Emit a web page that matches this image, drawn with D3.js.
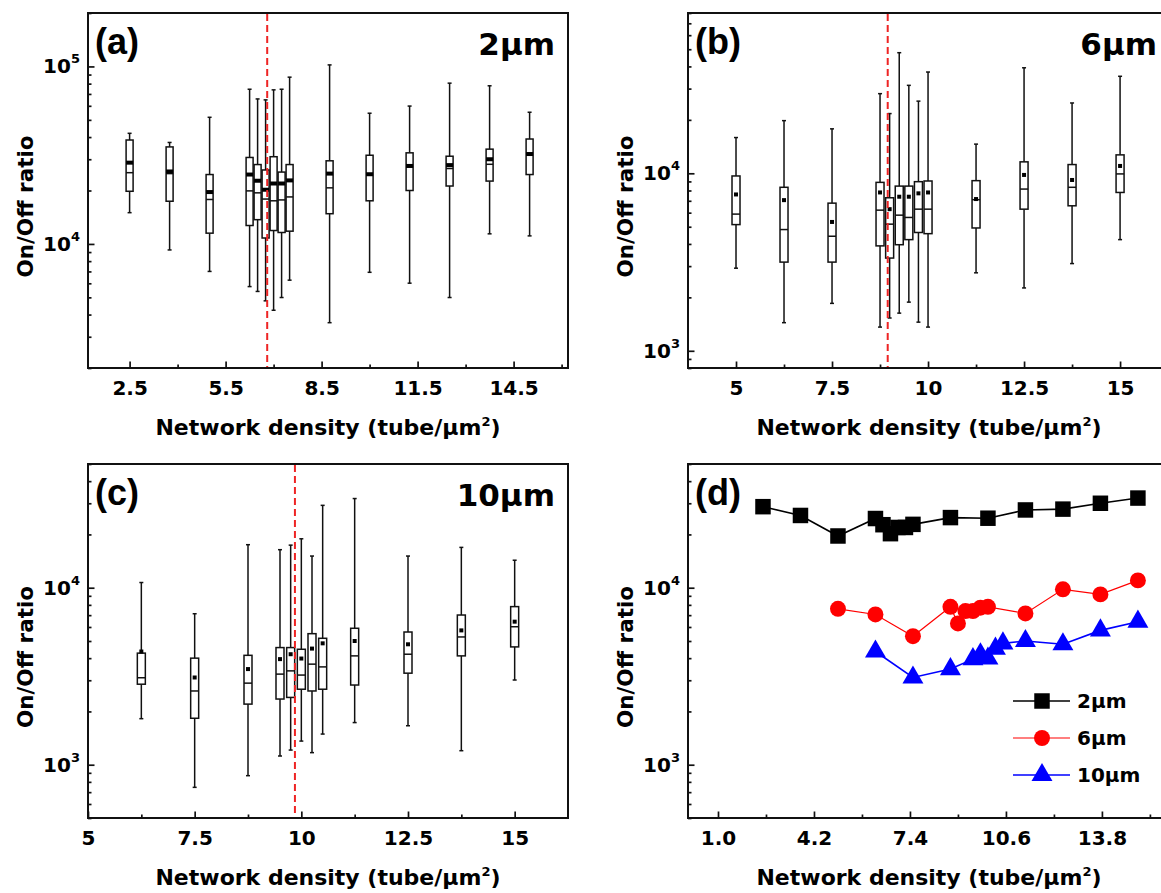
<!DOCTYPE html>
<html>
<head>
<meta charset="utf-8">
<script src="https://cdn.jsdelivr.net/npm/d3@7"></script>
<style>
  body { margin: 0; background: #fff; }
  svg { display: block; }
</style>
</head>
<body>
<div id="chart"></div>
<script>
const width = 1161;
const height = 893;
const FONT = "'DejaVu Sans', sans-serif";
const INK = "#111";

// (a) 2 µm channel
const densA = [2.5, 3.75, 5, 6.25, 6.5, 6.75, 7, 7.25, 7.5, 8.75, 10, 11.25, 12.5, 13.75, 15];
const lowA = [15000, 9250, 7000, 5750, 5400, 4780, 4230, 4990, 6250, 3600, 6920, 6010, 4990, 11400, 11100];
const q1A = [19800, 17400, 11500, 12700, 13700, 10800, 11900, 11600, 11800, 14800, 17500, 20000, 21200, 22600, 24600];
const medA = [25200, 24900, 17800, 19900, 19400, 17900, 17500, 17700, 18400, 20700, 24500, 27200, 26600, 28100, 32100];
const meanA = [28700, 25600, 19600, 24600, 22700, 20200, 21900, 21900, 22800, 24900, 24700, 27500, 27800, 30000, 32100];
const q3A = [38500, 35200, 24600, 30700, 28000, 26100, 31000, 25400, 28000, 29400, 31600, 32600, 31200, 34200, 39000];
const highA = [42000, 37300, 51700, 74400, 65600, 64800, 73800, 74400, 87000, 102000, 54500, 59800, 80500, 77800, 55200];

// (b) 6 µm channel
const densB = [5, 6.25, 7.5, 8.75, 9, 9.25, 9.5, 9.75, 10, 11.25, 12.5, 13.75, 15];
const lowB = [2920, 1440, 1850, 1360, 1530, 1630, 1880, 1450, 1360, 2750, 2260, 3100, 4230];
const q1B = [5140, 3160, 3160, 3900, 3330, 3960, 4230, 4640, 4570, 4920, 6280, 6560, 7800];
const medB = [5890, 4820, 4420, 6200, 5170, 5810, 5640, 6280, 6280, 7100, 8150, 8340, 9920];
const meanB = [7600, 7060, 5320, 7800, 6280, 7380, 7380, 7710, 7800, 7160, 9790, 9170, 11000];
const q3B = [9660, 8340, 6790, 8890, 7280, 8470, 8470, 8970, 9050, 9090, 11600, 11200, 12700];
const highB = [15900, 19800, 17800, 28100, 21700, 47800, 31300, 25500, 37200, 14600, 39300, 24900, 35200];

// (c) 10 µm channel
const densC = [6.25, 7.5, 8.75, 9.5, 9.75, 10, 10.25, 10.5, 11.25, 12.5, 13.75, 15];
const lowC = [1820, 745, 867, 1120, 1210, 1360, 1170, 1490, 1730, 1660, 1200, 3010];
const q1C = [2850, 1830, 2200, 2350, 2400, 2670, 2610, 2670, 2820, 3290, 4120, 4630];
const medC = [3100, 2610, 2890, 3250, 3390, 3210, 3700, 3570, 4120, 4210, 5270, 6020];
const meanC = [4360, 3110, 3470, 3950, 4210, 3980, 4530, 4850, 5000, 4790, 5740, 6430];
const q3C = [4270, 4000, 4150, 4590, 4590, 4490, 5500, 5180, 5900, 5620, 7010, 7820];
const highC = [10700, 7130, 17500, 16400, 17400, 18900, 15100, 29200, 31900, 15100, 16900, 14300];

// percolation thresholds (red dashed lines)
const cutoffs = { a: 6.8, b: 8.95, c: 9.85 };

// axis ticks
const ticksA = [2.5, 5.5, 8.5, 11.5, 14.5];
const minorA = [4, 7, 10, 13, 16];
const ticksBC = [5, 7.5, 10, 12.5, 15];
const minorBC = [6.25, 8.75, 11.25, 13.75];
const ticksD = [1.0, 4.2, 7.4, 10.6, 13.8];
const minorD = [2.6, 5.8, 9.0, 12.2, 15.4];

const seriesD = [
  { name: "2\u03bcm", dens: densA, mean: meanA, color: "#000", symbol: d3.symbolSquare, size: 240, lw: 1.6 },
  { name: "6\u03bcm", dens: densB, mean: meanB, color: "#ff0000", symbol: d3.symbolCircle, size: 200, lw: 1.2 },
  { name: "10\u03bcm", dens: densC, mean: meanC, color: "#0000ff", symbol: d3.symbolTriangle, size: 190, lw: 1.6 },
];

const panels = [
  { id: "a", tag: "2\u00b5m", left: 88, top: 13, w: 480, h: 355, xDomain: [1.2, 16.2], yDomain: [2000, 200000],
    ticks: ticksA, minor: minorA, fmt: d3.format(".1f"), boxW: 7, meanW: 7, meanH: 4,
    data: { dens: densA, low: lowA, q1: q1A, med: medA, mean: meanA, q3: q3A, high: highA } },
  { id: "b", tag: "6\u00b5m", left: 688, top: 13, w: 482, h: 355, xDomain: [3.75, 16.3], yDomain: [800, 80000],
    ticks: ticksBC, minor: minorBC, fmt: d3.format("~g"), boxW: 8, meanW: 4, meanH: 4,
    data: { dens: densB, low: lowB, q1: q1B, med: medB, mean: meanB, q3: q3B, high: highB } },
  { id: "c", tag: "10\u00b5m", left: 88, top: 464, w: 480, h: 354, xDomain: [5, 16.25], yDomain: [500, 50000],
    ticks: ticksBC, minor: minorBC, fmt: d3.format("~g"), boxW: 8, meanW: 4, meanH: 4,
    data: { dens: densC, low: lowC, q1: q1C, med: medC, mean: meanC, q3: q3C, high: highC } },
  { id: "d", tag: null, left: 688, top: 464, w: 482, h: 354, xDomain: [0, 16.07], yDomain: [500, 50000],
    ticks: ticksD, minor: minorD, fmt: d3.format(".1f") },
];

const svg = d3.select("#chart")
  .append("svg")
  .attr("width", width)
  .attr("height", height)
  .attr("font-family", FONT)
  .attr("font-weight", "bold");

function styleAxis(sel) {
  sel.select(".domain").remove();
  sel.attr("font-family", FONT).attr("font-size", 20).attr("font-weight", "bold");
  sel.selectAll(".tick line").attr("stroke", INK).attr("stroke-width", 1.7);
  sel.selectAll(".tick text").attr("fill", "#000");
}

function drawAxes(p, g, x, y) {
  const bottom = p.top + p.h;

  g.append("g")
    .attr("transform", `translate(0,${bottom})`)
    .call(d3.axisBottom(x).tickValues(p.minor).tickSize(-3.5).tickFormat(""))
    .call(styleAxis);

  g.append("g")
    .attr("transform", `translate(0,${bottom})`)
    .call(d3.axisBottom(x).tickValues(p.ticks).tickSize(-6.5).tickPadding(13).tickFormat(p.fmt))
    .call(styleAxis);

  const logTicks = y.ticks().filter(v => v >= p.yDomain[0] && v <= p.yDomain[1]);
  const majors = logTicks.filter(v => Math.abs(Math.log10(v) - Math.round(Math.log10(v))) < 1e-9);
  const minors = logTicks.filter(v => !majors.includes(v));

  g.append("g")
    .attr("transform", `translate(${p.left},0)`)
    .call(d3.axisLeft(y).tickValues(minors).tickSize(-3.5).tickFormat(""))
    .call(styleAxis);

  g.append("g")
    .attr("transform", `translate(${p.left},0)`)
    .call(d3.axisLeft(y).tickValues(majors).tickSize(-6.5).tickFormat(""))
    .call(styleAxis);

  const yl = g.append("g").selectAll("text")
    .data(majors)
    .join("text")
    .attr("x", p.left - 8)
    .attr("y", d => y(d) + 7)
    .attr("text-anchor", "end")
    .attr("font-size", 20);
  yl.append("tspan").text("10");
  yl.append("tspan")
    .attr("dy", -10)
    .attr("font-size", 13)
    .text(d => Math.round(Math.log10(d)));

  // frame
  g.append("rect")
    .attr("x", p.left)
    .attr("y", p.top)
    .attr("width", p.w)
    .attr("height", p.h)
    .attr("fill", "none")
    .attr("stroke", INK)
    .attr("stroke-width", 2);

  // axis titles
  const xt = g.append("text")
    .attr("x", p.left + p.w / 2)
    .attr("y", bottom + 67)
    .attr("text-anchor", "middle")
    .attr("font-size", 22);
  xt.append("tspan").text("Network density (tube/\u03bcm");
  xt.append("tspan").attr("dy", -9).attr("font-size", 13).text("2");
  xt.append("tspan").attr("dy", 9).text(")");

  g.append("text")
    .attr("transform", `translate(${p.left - 63},${p.top + p.h / 2 + 16}) rotate(-90)`)
    .attr("text-anchor", "middle")
    .attr("dy", "0.35em")
    .attr("font-size", 21.5)
    .text("On/Off ratio");

  // panel letter and channel length
  g.append("text")
    .attr("x", p.left + 7)
    .attr("y", p.top + 41)
    .attr("font-family", "'Liberation Sans', Arial, sans-serif")
    .attr("font-size", 36)
    .text(`(${p.id})`);

  if (p.tag) {
    g.append("text")
      .attr("x", p.left + p.w - 13)
      .attr("y", p.top + 42)
      .attr("text-anchor", "end")
      .attr("font-size", 31)
      .text(p.tag);
  }
}

function drawBoxes(p, g, x, y) {
  const d = p.data;
  const rows = d.dens.map((v, i) => ({
    x: v, low: d.low[i], q1: d.q1[i], med: d.med[i], mean: d.mean[i], q3: d.q3[i], high: d.high[i],
  }));
  const half = p.boxW / 2;

  const box = g.append("g").selectAll("g")
    .data(rows)
    .join("g")
    .attr("stroke", INK)
    .attr("stroke-width", 1.5);

  box.append("line")
    .attr("x1", r => x(r.x)).attr("x2", r => x(r.x))
    .attr("y1", r => y(r.high)).attr("y2", r => y(r.q3));
  box.append("line")
    .attr("x1", r => x(r.x)).attr("x2", r => x(r.x))
    .attr("y1", r => y(r.q1)).attr("y2", r => y(r.low));
  box.append("line")
    .attr("x1", r => x(r.x) - 2).attr("x2", r => x(r.x) + 2)
    .attr("y1", r => y(r.high)).attr("y2", r => y(r.high));
  box.append("line")
    .attr("x1", r => x(r.x) - 2).attr("x2", r => x(r.x) + 2)
    .attr("y1", r => y(r.low)).attr("y2", r => y(r.low));
  box.append("rect")
    .attr("x", r => x(r.x) - half)
    .attr("y", r => y(r.q3))
    .attr("width", p.boxW)
    .attr("height", r => y(r.q1) - y(r.q3))
    .attr("fill", "#fff");
  box.append("line")
    .attr("x1", r => x(r.x) - half).attr("x2", r => x(r.x) + half)
    .attr("y1", r => y(r.med)).attr("y2", r => y(r.med));
  box.append("rect")
    .attr("x", r => x(r.x) - p.meanW / 2)
    .attr("y", r => y(r.mean) - p.meanH / 2)
    .attr("width", p.meanW)
    .attr("height", p.meanH)
    .attr("fill", "#000")
    .attr("stroke", "none");

  g.append("line")
    .attr("x1", x(cutoffs[p.id])).attr("x2", x(cutoffs[p.id]))
    .attr("y1", p.top + 1).attr("y2", p.top + p.h - 1)
    .attr("stroke", "#ee2424")
    .attr("stroke-width", 2)
    .attr("stroke-dasharray", "7,4");
}

function drawSummary(p, g, x, y) {
  const line = d3.line().x(d => x(d[0])).y(d => y(d[1]));

  seriesD.forEach(s => {
    const pts = s.dens.map((v, i) => [v, s.mean[i]]);
    g.append("path")
      .attr("d", line(pts))
      .attr("fill", "none")
      .attr("stroke", s.color)
      .attr("stroke-width", s.lw);
    g.append("g").selectAll("path")
      .data(pts)
      .join("path")
      .attr("transform", d => `translate(${x(d[0])},${y(d[1])})`)
      .attr("d", d3.symbol(s.symbol, s.size))
      .attr("fill", s.color);
  });

  // legend
  const lg = g.append("g").attr("transform", `translate(${p.left + 325},${p.top + 237})`);
  seriesD.forEach((s, i) => {
    const row = lg.append("g").attr("transform", `translate(0,${i * 37})`);
    row.append("line")
      .attr("x1", 0).attr("x2", 57)
      .attr("stroke", s.color)
      .attr("stroke-width", s.lw);
    row.append("path")
      .attr("transform", "translate(29,0)")
      .attr("d", d3.symbol(s.symbol, s.size))
      .attr("fill", s.color);
    row.append("text")
      .attr("x", 64)
      .attr("y", 7)
      .attr("font-size", 20)
      .text(s.name);
  });
}

panels.forEach(p => {
  const x = d3.scaleLinear().domain(p.xDomain).range([p.left, p.left + p.w]);
  const y = d3.scaleLog().domain(p.yDomain).range([p.top + p.h, p.top]);
  const g = svg.append("g").attr("class", `panel-${p.id}`);

  drawAxes(p, g, x, y);
  if (p.data) {
    drawBoxes(p, g, x, y);
  } else {
    drawSummary(p, g, x, y);
  }
});
</script>
</body>
</html>
